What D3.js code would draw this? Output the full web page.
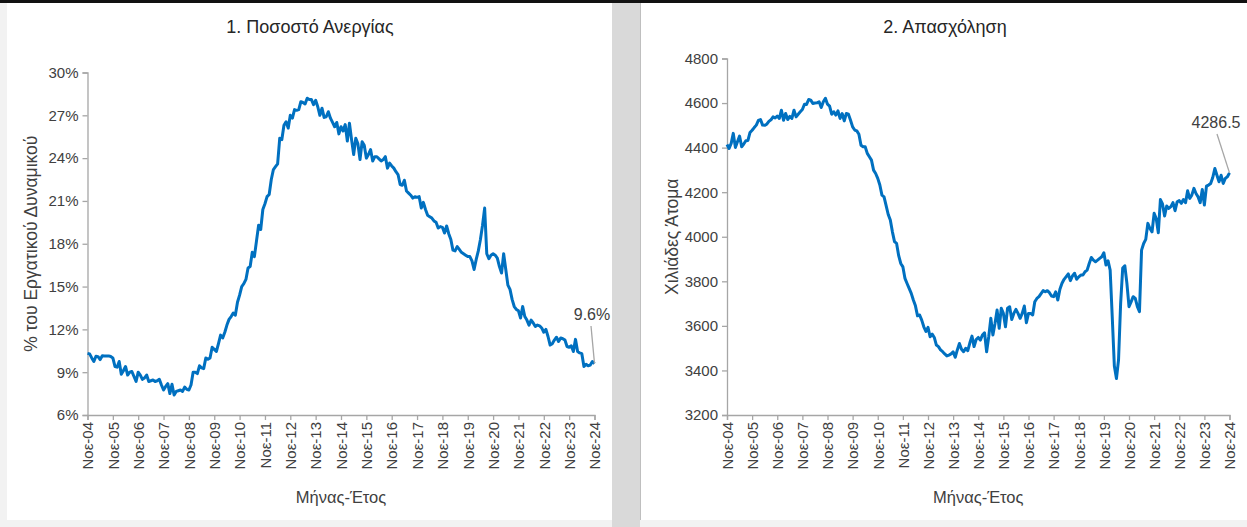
<!DOCTYPE html>
<html>
<head>
<meta charset="utf-8">
<script src="https://cdn.jsdelivr.net/npm/d3@7"></script>
<style>
	body { margin: 0; background: #f2f2f2; }
	text { font-family: "Liberation Sans", Arial, sans-serif; fill: #404040; }
</style>
</head>
<body>
<svg id="chart" width="1247" height="527"></svg>
<script>

// Tick labels, one per November (Noε-04 ... Noε-24)
var tickLabels = ['Νοε-04', 'Νοε-05', 'Νοε-06', 'Νοε-07', 'Νοε-08', 'Νοε-09', 'Νοε-10',
	'Νοε-11', 'Νοε-12', 'Νοε-13', 'Νοε-14', 'Νοε-15', 'Νοε-16', 'Νοε-17', 'Νοε-18',
	'Νοε-19', 'Νοε-20', 'Νοε-21', 'Νοε-22', 'Νοε-23', 'Νοε-24'];

// Unemployment rate (%), monthly Nov-04 .. Nov-24
var unemployment = [
	10.32, 10.28, 10.0, 9.75, 10.12, 10.09, 9.88, 10.15, 10.14, 10.14, 10.14, 10.1,
	10.0, 9.4, 9.35, 9.75, 8.85, 9.1, 9.4, 8.8, 9.0, 9.05, 8.7, 8.35,
	9.0, 8.8, 8.5, 8.6, 8.8, 8.35, 8.4, 8.45, 8.35, 8.4, 8.5, 8.1,
	7.75, 8.0, 8.2, 7.5, 8.15, 7.4, 7.65, 7.7, 7.75, 7.65, 7.95, 7.8,
	7.75, 8.1, 9.0, 9.0, 8.9, 9.45, 9.3, 9.25, 10.0, 9.9, 10.0, 10.75,
	10.6, 10.45, 11.0, 11.6, 11.4, 11.8, 12.3, 12.7, 12.9, 13.15, 13.0, 13.9,
	14.4, 15.0, 15.2, 15.5, 16.3, 16.4, 17.4, 17.1, 18.2, 19.3, 19.0, 20.4,
	20.8, 21.3, 21.45, 22.5, 23.2, 23.4, 23.6, 25.4, 25.3, 26.3, 26.55, 26.1,
	27.0, 26.8, 27.4, 27.35, 27.4, 27.95, 27.9, 27.8, 28.2, 28.1, 28.1, 27.75,
	28.05, 27.6, 27.0, 27.5, 26.85, 26.9, 27.25, 26.8, 26.5, 26.2, 26.5, 25.7,
	26.2, 25.9, 26.35, 25.2, 26.45, 25.3, 24.25, 25.4, 25.0, 23.9, 25.15, 24.9,
	24.0, 24.25, 24.6, 23.8, 24.1, 24.1, 23.95, 23.8, 23.9, 24.1, 23.3, 23.65,
	23.45, 23.3, 23.05, 22.85, 22.15, 22.1, 22.45, 21.7, 21.55, 21.4, 21.2, 21.3,
	21.25, 21.3, 20.5, 20.9, 20.4, 20.0, 19.9, 19.8, 19.6, 19.5, 19.1, 19.2,
	19.15, 18.75, 19.25, 18.7, 18.3, 17.55, 17.5, 17.8, 17.6, 17.4, 17.3, 17.2,
	17.1, 17.1, 16.8, 16.2, 16.9, 17.5, 18.3, 19.3, 20.5, 17.3, 16.95, 17.2,
	17.3, 17.2, 17.0, 16.4, 15.95, 17.3, 16.2, 15.1, 14.8, 14.1, 13.6, 13.4,
	13.3, 12.8, 13.6, 12.9, 12.65, 12.3, 12.65, 12.45, 12.2, 12.3, 12.25, 12.1,
	11.8, 12.0, 11.5, 10.9, 11.0, 11.25, 11.45, 11.15, 11.4, 11.35, 11.25, 10.8,
	10.75, 10.85, 10.45, 11.3, 10.45, 10.35, 10.3, 9.4, 9.55, 9.45, 9.5, 9.75,
	9.6
];

// Employed persons (thousands), monthly Nov-04 .. Nov-24
var employment = [
	4414, 4396, 4419, 4464, 4401, 4426, 4452, 4404, 4416, 4431, 4432, 4468,
	4478, 4490, 4501, 4522, 4526, 4501, 4500, 4505, 4518, 4525, 4538, 4533,
	4542, 4531, 4568, 4523, 4553, 4526, 4540, 4531, 4568, 4538, 4550, 4561,
	4571, 4595, 4594, 4616, 4613, 4598, 4600, 4601, 4606, 4580, 4606, 4621,
	4595, 4586, 4550, 4561, 4546, 4565, 4531, 4553, 4520, 4553, 4550, 4523,
	4493, 4479, 4475, 4460, 4411, 4404, 4404, 4374, 4359, 4344, 4299, 4284,
	4262, 4232, 4187, 4179, 4140, 4100, 4075, 4022, 3978, 3970, 3915, 3880,
	3865, 3813, 3790, 3768, 3746, 3716, 3690, 3645, 3649, 3626, 3596, 3575,
	3593, 3551, 3563, 3548, 3514, 3507, 3492, 3484, 3474, 3465, 3469, 3474,
	3484, 3459, 3492, 3521, 3495, 3484, 3499, 3489, 3524, 3554, 3507, 3539,
	3548, 3536, 3559, 3569, 3484, 3551, 3634, 3559, 3611, 3671, 3589, 3679,
	3656, 3596, 3679, 3686, 3629, 3656, 3674, 3656, 3634, 3656, 3689, 3614,
	3656, 3656, 3649, 3708, 3723, 3731, 3745, 3758, 3753, 3758, 3749, 3734,
	3731, 3753, 3716, 3764, 3791, 3809, 3821, 3833, 3803, 3824, 3836, 3809,
	3820, 3828, 3828, 3843, 3850, 3880, 3907, 3895, 3888, 3895, 3903, 3910,
	3928, 3873, 3892, 3850, 3640, 3420, 3364, 3447, 3700, 3860, 3870, 3791,
	3686, 3708, 3731, 3723, 3686, 3664, 3940, 3970, 3988, 4060, 4037, 4022,
	4105, 4082, 4018, 4167, 4147, 4093, 4138, 4127, 4135, 4153, 4117, 4157,
	4162, 4150, 4167, 4153, 4206, 4172, 4187, 4217, 4194, 4179, 4153, 4212,
	4142, 4227, 4232, 4239, 4266, 4306, 4276, 4247, 4276, 4239, 4262, 4269,
	4286.5
];

var unemploymentTicks = [6, 9, 12, 15, 18, 21, 24, 27, 30];
var employmentTicks = [3200, 3400, 3600, 3800, 4000, 4200, 4400, 4600, 4800];

var svg = d3.select('#chart');

// Page background, panels and separator
svg.append('rect').attr('x', 0).attr('y', 0).attr('width', 1247).attr('height', 527).style('fill', '#f2f2f2');
svg.append('rect').attr('x', 0).attr('y', 0).attr('width', 1247).attr('height', 3).style('fill', '#111');
svg.append('rect').attr('x', 7).attr('y', 3).attr('width', 605).attr('height', 517).style('fill', '#fff');
svg.append('rect').attr('x', 612).attr('y', 3).attr('width', 28).attr('height', 524).style('fill', '#d9d9d9');
svg.append('rect').attr('x', 641).attr('y', 3).attr('width', 606).attr('height', 517).style('fill', '#fff');
svg.append('line').attr('x1', 640.5).attr('x2', 640.5).attr('y1', 3).attr('y2', 520)
	.style('stroke', '#bfbfbf');

// Draw one line panel
function drawPanel(p) {

	var g = svg.append('g');

	var x = d3.scaleLinear().domain([0, p.values.length - 1]).range([p.left, p.right]);
	var y = d3.scaleLinear().domain(d3.extent(p.ticks)).range([p.bottom, p.top]);

	// Y axis
	g.append('g')
		.attr('transform', 'translate(' + p.left + ',0)')
		.call(d3.axisLeft(y).tickValues(p.ticks).tickFormat(p.format).tickSize(5).tickPadding(4));

	// X axis with rotated labels
	var xAxis = g.append('g')
		.attr('transform', 'translate(0,' + p.bottom + ')')
		.call(d3.axisBottom(x)
			.tickValues(d3.range(0, p.values.length, 12))
			.tickFormat(function(d) { return tickLabels[d / 12]; })
			.tickSize(5));

	xAxis.selectAll('text')
		.attr('transform', 'rotate(-90)')
		.attr('x', -7)
		.attr('y', 0)
		.attr('dy', '0.35em')
		.style('text-anchor', 'end');

	g.selectAll('.domain, .tick line').style('stroke', '#a6a6a6').style('stroke-width', 1.3);
	g.selectAll('.tick text').style('font-size', '15px').style('fill', '#404040')
		.style('font-family', '"Liberation Sans", Arial, sans-serif');

	// Series line
	g.append('path')
		.datum(p.values)
		.attr('d', d3.line().x(function(d, i) { return x(i); }).y(function(d) { return y(d); }))
		.style('fill', 'none')
		.style('stroke', '#0070c0')
		.style('stroke-width', 3)
		.style('stroke-linejoin', 'round');

	// Last value label with leader line
	var last = p.values.length - 1;
	g.append('line')
		.attr('x1', p.labelX + p.leadDx).attr('y1', p.labelY + 6)
		.attr('x2', x(last)).attr('y2', y(p.values[last]))
		.style('stroke', '#a6a6a6')
		.style('stroke-width', 1.3);
	g.append('text')
		.attr('x', p.labelX).attr('y', p.labelY)
		.style('text-anchor', 'middle')
		.style('font-size', '16px')
		.text(p.lastText);

	// Titles
	g.append('text')
		.attr('x', p.titleX).attr('y', 33)
		.style('text-anchor', 'middle')
		.style('font-size', '18px')
		.style('fill', '#262626')
		.text(p.title);

	g.append('text')
		.attr('transform', 'translate(' + p.yTitleX + ',' + ((p.top + p.bottom) / 2) + ') rotate(-90)')
		.style('text-anchor', 'middle')
		.style('font-size', '17.5px')
		.text(p.yTitle);

	g.append('text')
		.attr('x', (p.left + p.right) / 2).attr('y', 503)
		.style('text-anchor', 'middle')
		.style('font-size', '16.5px')
		.text('Μήνας-Έτος');
};

drawPanel({
	values: unemployment, ticks: unemploymentTicks,
	format: function(d) { return d + '%'; },
	left: 87.5, right: 594.5, top: 72.5, bottom: 415,
	title: '1. Ποσοστό Ανεργίας', titleX: 310,
	yTitle: '% του Εργατικού Δυναμικού', yTitleX: 37,
	lastText: unemployment[unemployment.length - 1] + '%',
	labelX: 592, labelY: 320, leadDx: -1
});

drawPanel({
	values: employment, ticks: employmentTicks,
	format: function(d) { return d; },
	left: 727, right: 1229.5, top: 58.5, bottom: 415,
	title: '2. Απασχόληση', titleX: 945,
	yTitle: 'Χιλιάδες Άτομα', yTitleX: 678,
	lastText: String(employment[employment.length - 1]),
	labelX: 1216, labelY: 128, leadDx: 1
});

</script>
</body>
</html>
